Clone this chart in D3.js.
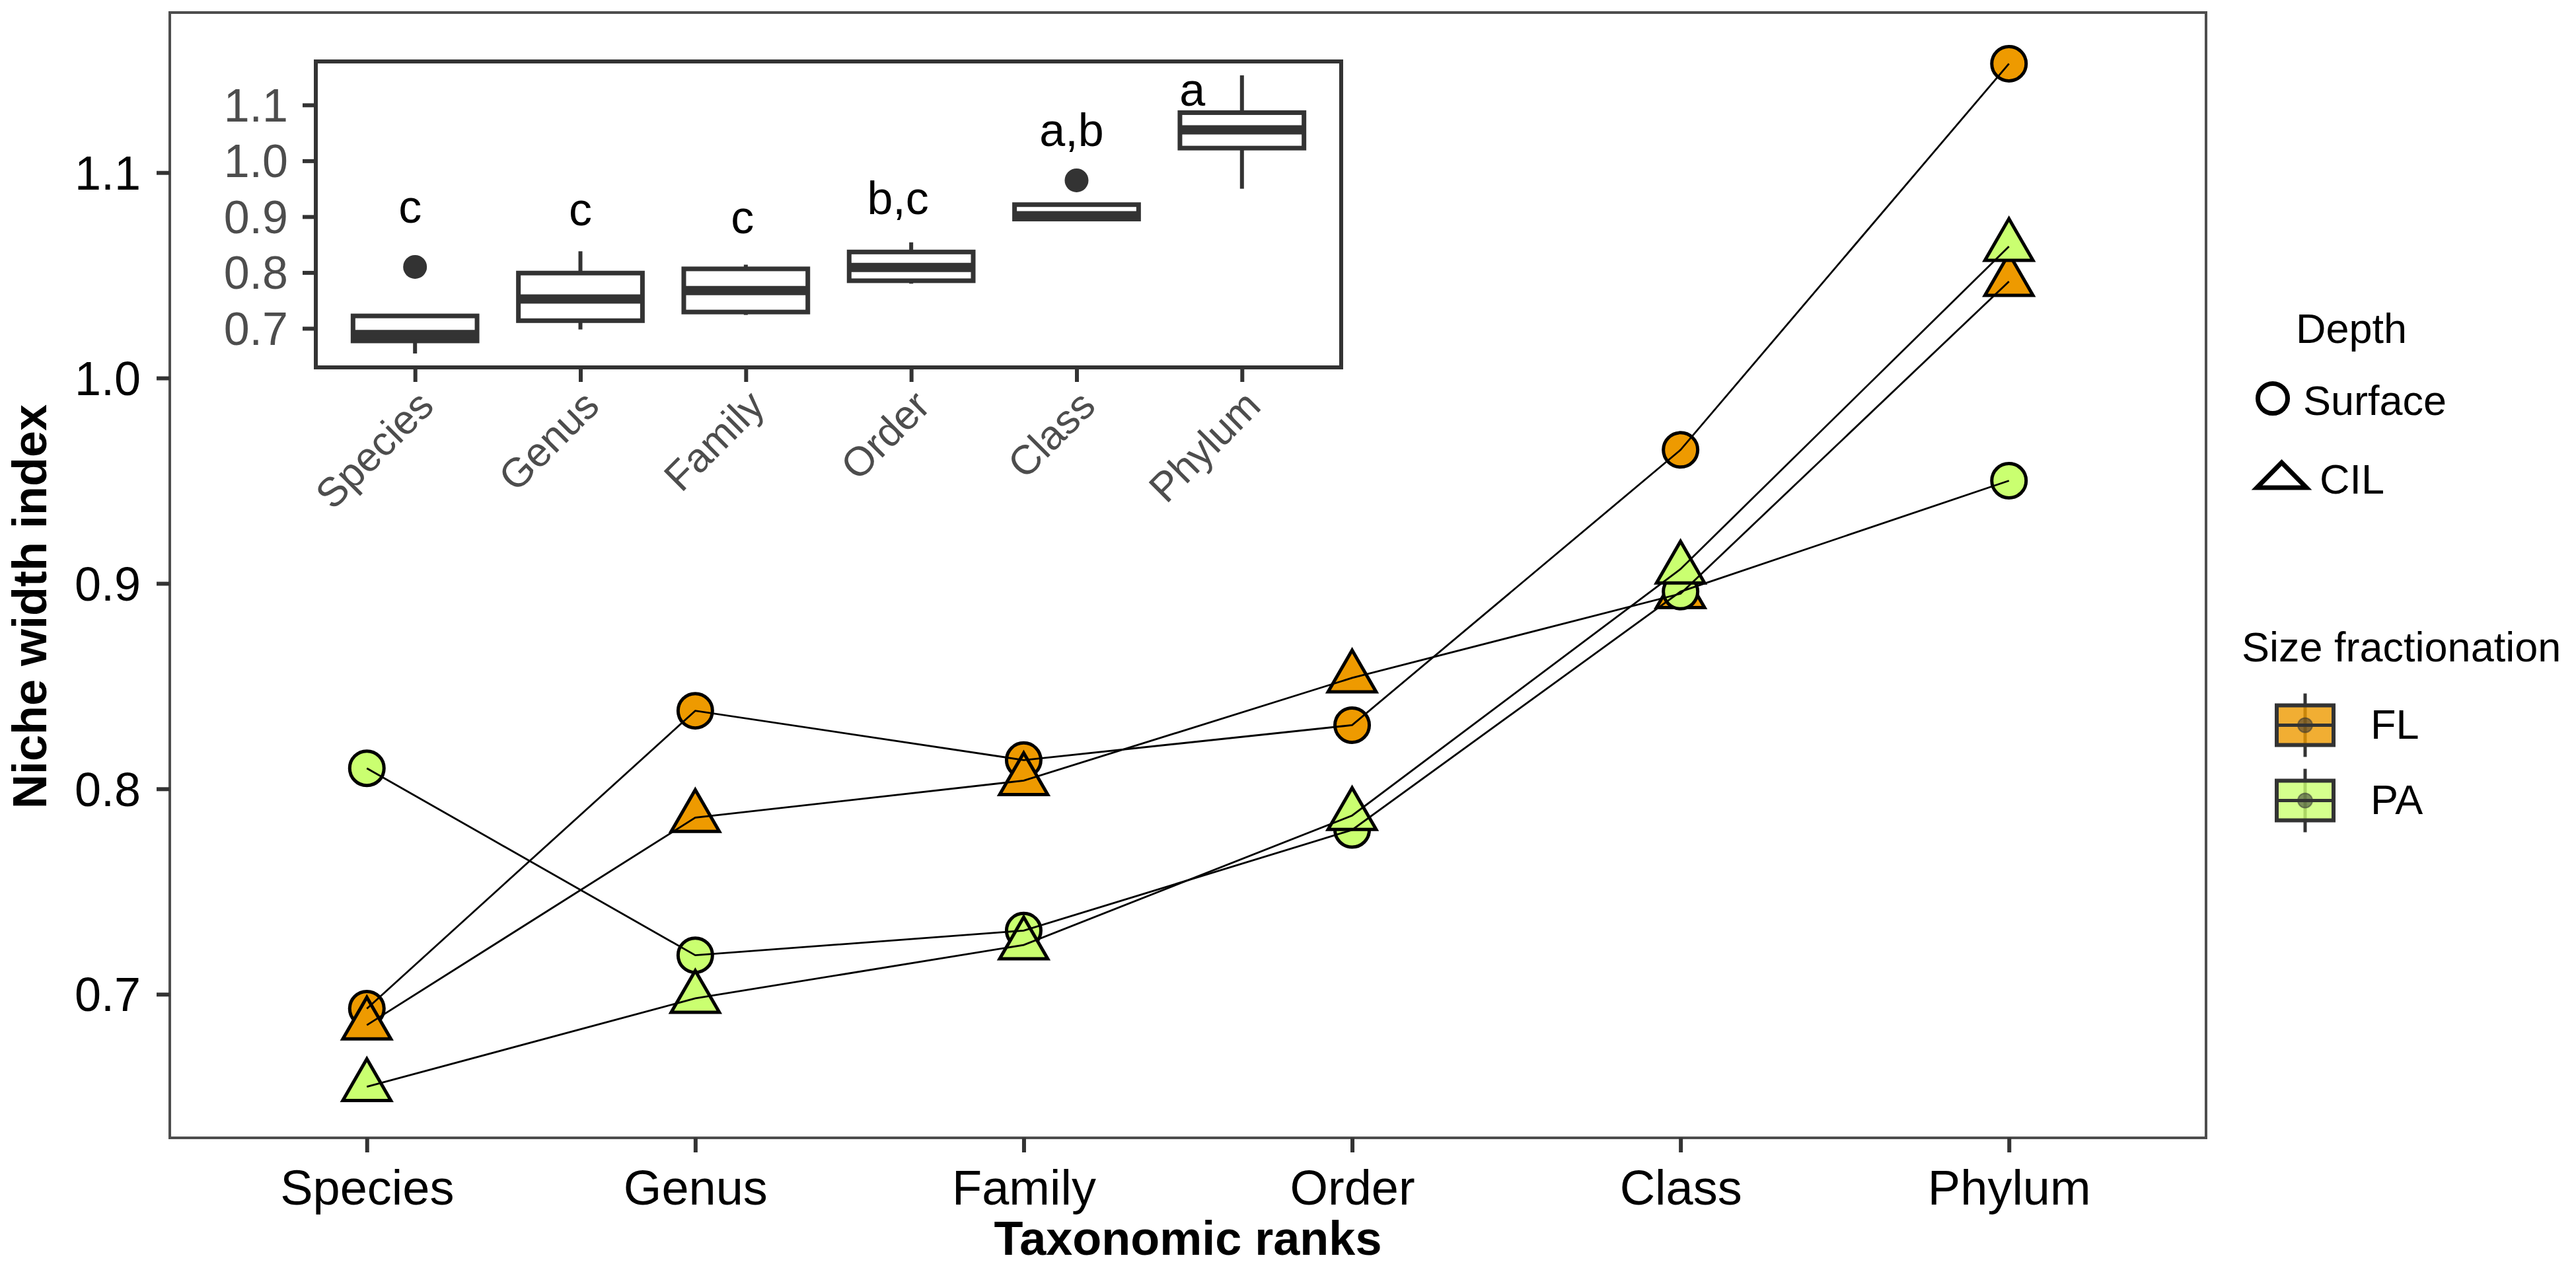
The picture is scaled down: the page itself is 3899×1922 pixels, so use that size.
<!DOCTYPE html>
<html><head><meta charset="utf-8">
<script src="https://cdn.jsdelivr.net/npm/d3@7"></script>
<style>
html,body{margin:0;padding:0;background:#fff;}
text{font-family:"Liberation Sans",Arial,Helvetica,sans-serif;}
</style></head>
<body>
<svg id="chart" width="3899" height="1922"></svg>
<script>
// ---------- data ----------
const ranks = ["Species","Genus","Family","Order","Class","Phylum"];
const flSurface = [0.693, 0.838, 0.814, 0.831, 0.965, 1.153];
const flCIL     = [0.685, 0.786, 0.804, 0.854, 0.895, 1.047];
const paSurface = [0.810, 0.719, 0.731, 0.780, 0.896, 0.950];
const paCIL     = [0.655, 0.698, 0.724, 0.787, 0.907, 1.064];
const fractions = ["FL","PA"];
const depths = ["Surface","CIL"];
const yTicks = [0.7, 0.8, 0.9, 1.0, 1.1];
const letters = ["c","c","c","b,c","a,b","a"];
const letterY = [0.911, 0.907, 0.893, 0.927, 1.049, 1.121];
const letterShift = [-0.03, 0, -0.02, -0.08, -0.03, -0.3];

const series = [
  {frac:"FL", depth:"Surface", values:flSurface},
  {frac:"FL", depth:"CIL", values:flCIL},
  {frac:"PA", depth:"Surface", values:paSurface},
  {frac:"PA", depth:"CIL", values:paCIL}
];

const colour = d3.scaleOrdinal().domain(fractions).range(["#EE9A00","#CAFF70"]);
const svg = d3.select("#chart");
const ink = "#333333";

// ---------- main scales ----------
const allVals = series.flatMap(s => s.values);
const [vmin, vmax] = d3.extent(allVals);
const pad = (vmax - vmin) * 0.05;
const yDomain = [vmin - pad, vmax + pad];

const P = {left:257, right:3339, top:19, bottom:1722};
const x = d3.scalePoint().domain(ranks).range([P.left, P.right]).padding(0.6);
const y = d3.scaleLinear().domain(yDomain).range([P.bottom, P.top]);

const main = svg.append("g");
main.append("rect").attr("x",P.left).attr("y",P.top)
  .attr("width",P.right-P.left).attr("height",P.bottom-P.top)
  .attr("fill","#fff").attr("stroke","#4d4d4d").attr("stroke-width",4);

// axes
const xAxis = main.append("g").attr("transform",`translate(0,${P.bottom})`)
  .call(d3.axisBottom(x).tickSize(22).tickPadding(26));
const yAxis = main.append("g").attr("transform",`translate(${P.left},0)`)
  .call(d3.axisLeft(y).tickValues(yTicks).tickFormat(d3.format(".1f")).tickSize(20).tickPadding(24));
[xAxis,yAxis].forEach(a=>{
  a.select(".domain").remove();
  a.selectAll(".tick line").attr("stroke",ink).attr("stroke-width",6);
  a.selectAll(".tick text").attr("fill","#000").attr("font-size",74)
   .attr("font-family","'Liberation Sans',Arial,sans-serif");
});
xAxis.selectAll(".tick text").attr("dy","0.71em");
yAxis.selectAll(".tick text").attr("font-size",72).attr("dy","0.35em");

main.append("text").attr("x",(P.left+P.right)/2).attr("y",1899)
  .attr("text-anchor","middle").attr("font-weight","bold").attr("font-size",72)
  .text("Taxonomic ranks");
main.append("text").attr("transform","translate(70,918) rotate(-90)")
  .attr("text-anchor","middle").attr("font-weight","bold").attr("font-size",72)
  .text("Niche width index");

// symbols
const R = 27;
function triPath(r){
  const t0 = 1.5551*r, t1 = 1.3468*r, t2 = 0.7776*r;
  return `M0,${-t0}L${t1},${t2}L${-t1},${t2}Z`;
}

// points (drawn first, lines over them)
const pts = main.append("g");
series.forEach(s=>{
  s.values.forEach((v,i)=>{
    const cx = x(ranks[i]), cy = y(v);
    if(s.depth==="Surface"){
      pts.append("circle").attr("cx",cx).attr("cy",cy).attr("r",R-1)
        .attr("fill",colour(s.frac)).attr("stroke","#000").attr("stroke-width",5);
    } else {
      pts.append("path").attr("d",triPath(R)).attr("transform",`translate(${cx},${cy})`)
        .attr("fill",colour(s.frac)).attr("stroke","#000").attr("stroke-width",5)
        .attr("stroke-linejoin","miter");
    }
  });
});
const line = d3.line().x((d,i)=>x(ranks[i])).y(d=>y(d));
series.forEach(s=>{
  main.append("path").attr("d",line(s.values)).attr("fill","none")
    .attr("stroke","#000").attr("stroke-width",2.8);
});

// ---------- inset boxplot ----------
const I = {left:478, right:2030, top:93, bottom:556};
const ix = d3.scalePoint().domain(ranks).range([I.left, I.right]).padding(0.6);
const iy = d3.scaleLinear().domain(yDomain).range([I.bottom, I.top]);
const inset = svg.append("g");
inset.append("rect").attr("x",I.left).attr("y",I.top)
  .attr("width",I.right-I.left).attr("height",I.bottom-I.top)
  .attr("fill","#fff").attr("stroke",ink).attr("stroke-width",6);

const ixAxis = inset.append("g").attr("transform",`translate(0,${I.bottom})`)
  .call(d3.axisBottom(ix).tickSize(22).tickFormat(""));
const iyAxis = inset.append("g").attr("transform",`translate(${I.left},0)`)
  .call(d3.axisLeft(iy).tickValues(yTicks).tickFormat(d3.format(".1f")).tickSize(20).tickPadding(22));
[ixAxis,iyAxis].forEach(a=>{
  a.select(".domain").remove();
  a.selectAll(".tick line").attr("stroke",ink).attr("stroke-width",6);
});
iyAxis.selectAll(".tick text").attr("fill","#4D4D4D").attr("font-size",70).attr("dy","0.35em")
  .attr("font-family","'Liberation Sans',Arial,sans-serif");
inset.append("g").selectAll("text").data(ranks).join("text")
  .attr("transform",d=>`translate(${ix(d)},${I.bottom+30}) rotate(-45)`)
  .attr("text-anchor","end").attr("dy","0.72em").attr("fill","#4D4D4D").attr("font-size",62)
  .text(d=>d);

const boxW = ix.step()*0.75;
ranks.forEach((r,i)=>{
  const vals = series.map(s=>s.values[i]).sort(d3.ascending);
  const q1 = d3.quantile(vals,0.25), med = d3.quantile(vals,0.5), q3 = d3.quantile(vals,0.75);
  const iqr = q3-q1, lo = q1-1.5*iqr, hi = q3+1.5*iqr;
  const inside = vals.filter(v=>v>=lo && v<=hi);
  const wLo = d3.min(inside), wHi = d3.max(inside);
  const outl = vals.filter(v=>v<lo || v>hi);
  const cx = ix(r);
  const g = inset.append("g");
  g.append("line").attr("x1",cx).attr("x2",cx).attr("y1",iy(q3)).attr("y2",iy(wHi))
    .attr("stroke",ink).attr("stroke-width",6);
  g.append("line").attr("x1",cx).attr("x2",cx).attr("y1",iy(q1)).attr("y2",iy(wLo))
    .attr("stroke",ink).attr("stroke-width",6);
  g.append("rect").attr("x",cx-boxW/2).attr("y",iy(q3)).attr("width",boxW)
    .attr("height",iy(q1)-iy(q3)).attr("fill","#fff").attr("stroke",ink).attr("stroke-width",7);
  g.append("line").attr("x1",cx-boxW/2).attr("x2",cx+boxW/2).attr("y1",iy(med)).attr("y2",iy(med))
    .attr("stroke",ink).attr("stroke-width",14);
  outl.forEach(o=>{
    g.append("circle").attr("cx",cx).attr("cy",iy(o)).attr("r",18).attr("fill",ink);
  });
  inset.append("text").attr("x",ix(ranks[i]) + letterShift[i]*ix.step()).attr("y",iy(letterY[i]))
    .attr("dy","0.27em").attr("text-anchor","middle").attr("font-size",70).attr("fill","#000")
    .text(letters[i]);
});

// ---------- legends ----------
const leg = svg.append("g");
const lfs = 63;
leg.append("text").attr("x",3475).attr("y",519).attr("font-size",lfs).text("Depth");
leg.append("circle").attr("cx",3440).attr("cy",603).attr("r",22.5)
  .attr("fill","none").attr("stroke","#000").attr("stroke-width",7);
leg.append("text").attr("x",3486).attr("y",628).attr("font-size",lfs).text(depths[0]);
leg.append("path").attr("d","M3416,738L3491,738L3453.5,700Z")
  .attr("fill","none").attr("stroke","#000").attr("stroke-width",7).attr("stroke-linejoin","miter");
leg.append("text").attr("x",3511).attr("y",747).attr("font-size",lfs).text(depths[1]);

leg.append("text").attr("x",3393).attr("y",1001).attr("font-size",lfs).text("Size fractionation");
fractions.forEach((f,k)=>{
  const cy = 1097.5 + k*114;
  const cx = 3489;
  const g = leg.append("g");
  g.append("line").attr("x1",cx).attr("x2",cx).attr("y1",cy-48).attr("y2",cy+48)
    .attr("stroke",ink).attr("stroke-width",5);
  g.append("rect").attr("x",3446).attr("y",cy-30).attr("width",86).attr("height",60)
    .attr("fill",colour(f)).attr("fill-opacity",0.8).attr("stroke",ink).attr("stroke-width",6);
  g.append("line").attr("x1",3446).attr("x2",3532).attr("y1",cy).attr("y2",cy)
    .attr("stroke",ink).attr("stroke-width",5);
  g.append("circle").attr("cx",cx).attr("cy",cy).attr("r",11)
    .attr("fill","#333").attr("fill-opacity",0.55).attr("stroke","#333").attr("stroke-opacity",0.5).attr("stroke-width",2);
  leg.append("text").attr("x",3588).attr("y",cy+20).attr("font-size",lfs).text(f);
});
</script>
</body></html>
